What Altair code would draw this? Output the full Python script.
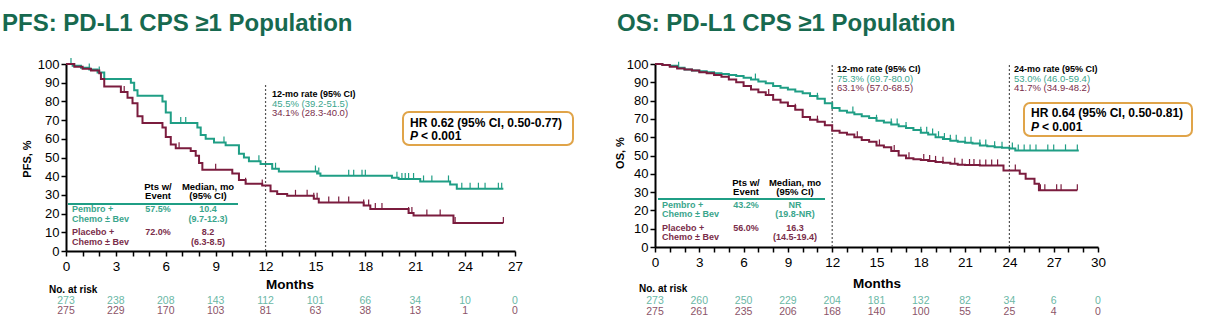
import altair as alt
import pandas as pd

FONT = "Liberation Sans"

# ---------------- data ----------------
# PFS (months, % progression-free)
pfs_pembro_t = [0, 0.4, 0.9, 1.4, 1.9, 2.3, 3.9, 4.1, 4.3, 5.8, 6.0, 6.3, 7.9, 8.1, 8.4, 8.9, 9.6,
                10.4, 10.7, 11.0, 11.7, 12.4, 12.8, 15.1, 15.3, 19.6, 20.0, 21.3, 23.1, 23.5, 26.3]
pfs_pembro_s = [100, 99, 98, 97, 95.5, 92, 90, 86, 83, 80, 74, 68.5, 66, 62, 60, 58, 56.5,
                52, 50, 48, 46.5, 44, 42.5, 41.5, 40.3, 39.2, 38.5, 37.2, 35.5, 33.3, 33.3]
pfs_placebo_t = [0, 0.5, 1.0, 1.5, 2.0, 2.1, 2.3, 3.3, 3.7, 4.0, 4.3, 4.6, 5.8, 6.0, 6.3, 6.6, 7.5,
                 7.8, 8.0, 8.2, 10.0, 10.4, 10.8, 11.8, 12.3, 12.7, 13.3, 14.9, 15.2, 17.9, 18.3,
                 20.6, 20.9, 23.3, 26.3]
pfs_placebo_s = [100, 98.5, 97.5, 96.5, 95, 92, 88, 85, 82, 79, 72, 68.5, 66, 61, 57, 55, 53.5,
                 51, 47, 43.5, 41.5, 38, 36, 35, 32, 30.5, 29.5, 28, 26, 24.3, 22.4,
                 20.3, 19, 15, 15]
pfs_pembro_cens = [0.3, 1.4, 2.0, 6.9, 7.2, 9.5, 11.6, 12.6, 15.0, 15.2, 17.0, 17.3, 17.8, 18.0,
                   19.9, 20.2, 20.4, 20.6, 20.9, 21.5, 22.0, 23.0, 23.8, 24.3, 24.8, 25.2, 26.0, 26.2]
pfs_placebo_cens = [3.5, 6.8, 9.0, 10.8, 11.8, 13.8, 14.5, 14.9, 15.1, 15.8, 16.4, 17.0, 17.9,
                    18.2, 18.6, 19.0, 20.6, 20.8, 21.7, 22.5, 23.4, 26.3]

# OS (months, % alive)
os_pembro_t = [0, 0.5, 1, 1.5, 2, 2.5, 3, 3.5, 4, 4.5, 5, 5.5, 6, 6.5, 7, 7.5, 8, 8.5, 9, 9.5, 10,
               10.5, 11, 11.5, 12, 12.5, 13, 13.5, 14, 14.5, 15, 15.5, 16, 16.5, 17, 17.5, 18, 18.5,
               19, 19.5, 20, 20.5, 21, 21.5, 22, 22.5, 23, 23.5, 24, 24.4, 28.7]
os_pembro_s = [100, 99.5, 99, 98, 97, 96.5, 96, 95.5, 95, 94.5, 94, 93.5, 92.5, 91.5, 90.5, 89.5,
               88, 87, 86, 85, 84, 82.5, 81, 78.5, 76, 74.5, 73.5, 72.5, 71.5, 70.5, 69, 68, 67, 66,
               65, 64, 62.5, 61.5, 60, 59, 58, 57.5, 57, 56.5, 55.5, 55, 54.5, 54.3, 53.8, 52.8, 52.8]
os_placebo_t = [0, 0.5, 1, 1.5, 2, 2.5, 3, 3.5, 4, 4.5, 5, 5.5, 6, 6.5, 7, 7.5, 8, 8.5, 9, 9.5, 10,
                10.5, 11, 11.5, 12, 12.5, 13, 13.5, 14, 14.5, 15, 15.5, 16, 16.5, 17, 17.5, 18, 18.5,
                19, 19.5, 20, 20.5, 21, 22, 23.6, 24.7, 25.1, 25.7, 26.0, 28.6]
os_placebo_s = [100, 99.5, 98.5, 97.5, 97, 96.5, 95.5, 95, 94, 93, 91.5, 90, 88, 86, 84.5, 83,
                80.5, 79, 77, 75, 71, 69.5, 68.5, 66.5, 63.5, 62.5, 61.5, 60, 58.5, 57.5, 55.5,
                54.5, 52.5, 50, 48.5, 48, 47.5, 47, 46.5, 46, 45.5, 45, 44.8, 44.6, 41.8, 40, 37.3,
                34.6, 31, 31]
os_pembro_cens = [1.6, 6.8, 11.0, 13.4, 15.0, 16.0, 16.4, 17.0, 18.0, 18.4, 18.8, 19.2, 19.6, 20.0,
                  20.4, 21.0, 21.4, 22.0, 22.4, 23.0, 23.5, 24.2, 24.6, 25.0, 25.4, 25.8, 26.6, 27.0,
                  27.8, 28.6]
os_placebo_cens = [7.7, 9.5, 11.0, 13.7, 15.2, 16.2, 17.2, 18.2, 18.6, 19.0, 19.5, 20.3, 20.8, 21.3,
                   21.6, 22.0, 22.4, 22.8, 23.2, 24.4, 26.1, 26.4, 27.2, 27.5, 28.6]

# at-risk tables
pfs_risk_months = [0, 3, 6, 9, 12, 15, 18, 21, 24, 27]
pfs_risk_pembro = [273, 238, 208, 143, 112, 101, 66, 34, 10, 0]
pfs_risk_placebo = [275, 229, 170, 103, 81, 63, 38, 13, 1, 0]
os_risk_months = [0, 3, 6, 9, 12, 15, 18, 21, 24, 27, 30]
os_risk_pembro = [273, 260, 250, 229, 204, 181, 132, 82, 34, 6, 0]
os_risk_placebo = [275, 261, 235, 206, 168, 140, 100, 55, 25, 4, 0]

# texts
pfs_title = "PFS: PD-L1 CPS \u22651 Population"
os_title = "OS: PD-L1 CPS \u22651 Population"
arm1 = ["Pembro +", "Chemo \u00b1 Bev"]
arm2 = ["Placebo +", "Chemo \u00b1 Bev"]
pfs_events = ["57.5%", "72.0%"]
pfs_median = [["10.4", "(9.7-12.3)"], ["8.2", "(6.3-8.5)"]]
os_events = ["43.2%", "56.0%"]
os_median = [["NR", "(19.8-NR)"], ["16.3", "(14.5-19.4)"]]
pfs_rate12 = ["12-mo rate (95% CI)", "45.5% (39.2-51.5)", "34.1% (28.3-40.0)"]
os_rate12 = ["12-mo rate (95% CI)", "75.3% (69.7-80.0)", "63.1% (57.0-68.5)"]
os_rate24 = ["24-mo rate (95% CI)", "53.0% (46.0-59.4)", "41.7% (34.9-48.2)"]
pfs_hr = "HR 0.62 (95% CI, 0.50-0.77)"
os_hr = "HR 0.64 (95% CI, 0.50-0.81)"

# ---------------- styles ----------------
TEAL = "#1f9e85"
MAROON = "#7b1c3e"
TEAL_T = "#3aa58c"
MAROON_T = "#7a2d4a"
TEAL_R = "#6bb8a6"
MAROON_R = "#8c5468"
GREEN = "#17694f"
ORANGE = "#e0a449"

one = pd.DataFrame({"a": [0]})


def txt(px, py, s, color="black", size=10, weight="bold", align="left", style="normal", angle=0):
    return alt.Chart(one).mark_text(
        text=s, font=FONT, fontSize=size, fontWeight=weight, fontStyle=style, color=color,
        align=align, baseline="middle", angle=angle
    ).encode(x=alt.value(px), y=alt.value(py))


def step_df(t, s):
    return pd.DataFrame({"m": t, "s": s})


def cens_df(times, t, s):
    ys = []
    for c in times:
        v = s[0]
        for ti, si in zip(t, s):
            if ti <= c:
                v = si
        ys.append(v)
    return pd.DataFrame({"m": times, "s": ys})


def panel(xmax, W, H, curves, risk_months, risk1, risk2, dash, dash_top, title, ytitle, geo):
    xs = alt.Scale(domain=[0, xmax], nice=False)
    ys = alt.Scale(domain=[0, 100], nice=False)
    XA = alt.Axis(values=list(range(0, xmax + 1)), title=None, labelFlush=False,
                  labelFontSize=13.5, labelPadding=3,
                  labelExpr="datum.value % 3 == 0 ? datum.label : ''")
    YA = alt.Axis(values=list(range(0, 101, 10)), title=None, labelFlush=False)
    X = lambda f: alt.X(f, scale=xs, axis=XA)
    Y = lambda f: alt.Y(f, scale=ys, axis=YA)
    layers = []
    # dashed reference lines
    dd = pd.DataFrame({"m": dash, "lo": [0] * len(dash), "hi": dash_top})
    layers.append(alt.Chart(dd).mark_rule(color="#555555", strokeDash=[2, 2], strokeWidth=1.2).encode(
        x=X("m:Q"), y=Y("lo:Q"), y2="hi:Q"))
    # curves and censor ticks
    for (t, s, cens, col) in curves:
        layers.append(alt.Chart(step_df(t, s)).mark_line(
            interpolate="step-after", color=col, strokeWidth=2).encode(x=X("m:Q"), y=Y("s:Q")))
        layers.append(alt.Chart(cens_df(cens, t, s)).mark_rule(
            color=col, strokeWidth=1.2, y2Offset=-6).encode(x=X("m:Q"), y=Y("s:Q"), y2="s:Q"))
    # at-risk rows
    for vals, col, py in [(risk1, TEAL_R, geo["r1"]), (risk2, MAROON_R, geo["r2"])]:
        rd = pd.DataFrame({"m": risk_months, "n": [str(v) for v in vals]})
        layers.append(alt.Chart(rd).mark_text(font=FONT, fontSize=10.5, color=col, align="center",
                                              baseline="middle").encode(
            x=X("m:Q"), y=alt.value(py), text="n:N"))
    layers.append(txt(geo["nar"][0], geo["nar"][1], "No. at risk", size=10))
    layers.append(txt(geo["months"][0], geo["months"][1], "Months", size=13.5, align="center"))
    layers.append(txt(geo["title"][0], geo["title"][1], title, color=GREEN, size=24))
    layers.append(txt(geo["ytitle"][0], geo["ytitle"][1], ytitle, size=11, align="center",
                      angle=270))
    # legend table
    lt = geo["table"]
    cx1, cx2, x0 = lt["c1"], lt["c2"], lt["x0"]
    layers.append(txt(cx1, lt["h1"], "Pts w/", align="center", size=9.5))
    layers.append(txt(cx1, lt["h2"], "Event", align="center", size=9.5))
    layers.append(txt(cx2, lt["h1"], "Median, mo", align="center", size=9.5))
    layers.append(txt(cx2, lt["h2"], "(95% CI)", align="center", size=9.5))
    layers.append(alt.Chart(one).mark_rule(color=TEAL, strokeWidth=2).encode(
        x=alt.value(lt["lx"][0]), x2=alt.value(lt["lx"][1]), y=alt.value(lt["ly"])))
    for arm, ev, med, col, (ya, yb) in [(arm1, lt["ev"][0], lt["med"][0], TEAL_T, lt["r1"]),
                                        (arm2, lt["ev"][1], lt["med"][1], MAROON_T, lt["r2"])]:
        layers.append(txt(x0, ya, arm[0], color=col, size=9))
        layers.append(txt(x0, yb, arm[1], color=col, size=9))
        layers.append(txt(cx1, ya, ev, color=col, size=9, align="center"))
        layers.append(txt(cx2, ya, med[0], color=col, size=9, align="center"))
        layers.append(txt(cx2, yb, med[1], color=col, size=9, align="center"))
    # rate annotations
    for (rx, ry, lines) in geo["rates"]:
        layers.append(txt(rx, ry[0], lines[0], size=9))
        layers.append(txt(rx, ry[1], lines[1], color=TEAL_T, size=9.5, weight="normal"))
        layers.append(txt(rx, ry[2], lines[2], color=MAROON_T, size=9.5, weight="normal"))
    # HR box
    b = geo["box"]
    layers.append(alt.Chart(one).mark_rect(cornerRadius=6, fill="white", stroke=ORANGE,
                                           strokeWidth=2).encode(
        x=alt.value(b["x"][0]), x2=alt.value(b["x"][1]), y=alt.value(b["y"][0]),
        y2=alt.value(b["y"][1])))
    layers.append(txt(b["tx"], b["ty"][0], b["hr"], size=12))
    layers.append(txt(b["tx"], b["ty"][1], "P", size=12, style="italic"))
    layers.append(txt(b["tx"] + 11, b["ty"][1], "< 0.001", size=12))
    if geo.get("frame"):
        f = geo["frame"]
        layers.append(alt.Chart(one).mark_rect(opacity=0).encode(
            x=alt.value(f[0]), x2=alt.value(f[1]), y=alt.value(f[2]), y2=alt.value(f[3])))
    return alt.layer(*layers).properties(width=W, height=H)


left = panel(
    27, 449, 187,
    [(pfs_pembro_t, pfs_pembro_s, pfs_pembro_cens, TEAL),
     (pfs_placebo_t, pfs_placebo_s, pfs_placebo_cens, MAROON)],
    pfs_risk_months, pfs_risk_pembro, pfs_risk_placebo, [12], [89],
    pfs_title, "PFS, %",
    dict(r1=237, r2=247, nar=(-17, 226), months=(224, 221), title=(-64, -40), ytitle=(-38, 95),
         table=dict(c1=92, c2=142, x0=6, h1=123, h2=132, lx=(2, 172), ly=140,
                    r1=(145, 155), r2=(168, 178), ev=pfs_events, med=pfs_median),
         rates=[(206, (30, 40, 49), pfs_rate12)],
         box=dict(x=(337, 507), y=(48, 81), tx=344, ty=(59, 72), hr=pfs_hr),
         frame=(-66, 1141, -64, 262)))

right = panel(
    30, 443, 183,
    [(os_pembro_t, os_pembro_s, os_pembro_cens, TEAL),
     (os_placebo_t, os_placebo_s, os_placebo_cens, MAROON)],
    os_risk_months, os_risk_pembro, os_risk_placebo, [12, 24], [100, 100],
    os_title, "OS, %",
    dict(r1=237, r2=248, nar=(-16, 225), months=(222, 220), title=(-38, -40), ytitle=(-34, 89),
         table=dict(c1=91, c2=140, x0=7, h1=119, h2=128, lx=(3, 170), ly=135,
                    r1=(141, 150), r2=(164, 173), ev=os_events, med=os_median),
         rates=[(182, (5, 15, 24), os_rate12), (359, (5, 15, 24), os_rate24)],
         box=dict(x=(369, 537), y=(39, 72), tx=376, ty=(49, 63), hr=os_hr)))

chart = alt.hconcat(left, right, spacing=140, bounds="flush").properties(
    padding=0, background="white"
).configure_view(stroke=None).configure_axis(
    domainColor="black", domainWidth=2, tickColor="black", tickWidth=1.5, tickSize=5,
    labelColor="black", labelFont=FONT, labelFontSize=13, grid=False, labelPadding=2
)

chart.save("out.html", embed_options={"renderer": "svg", "actions": False})
